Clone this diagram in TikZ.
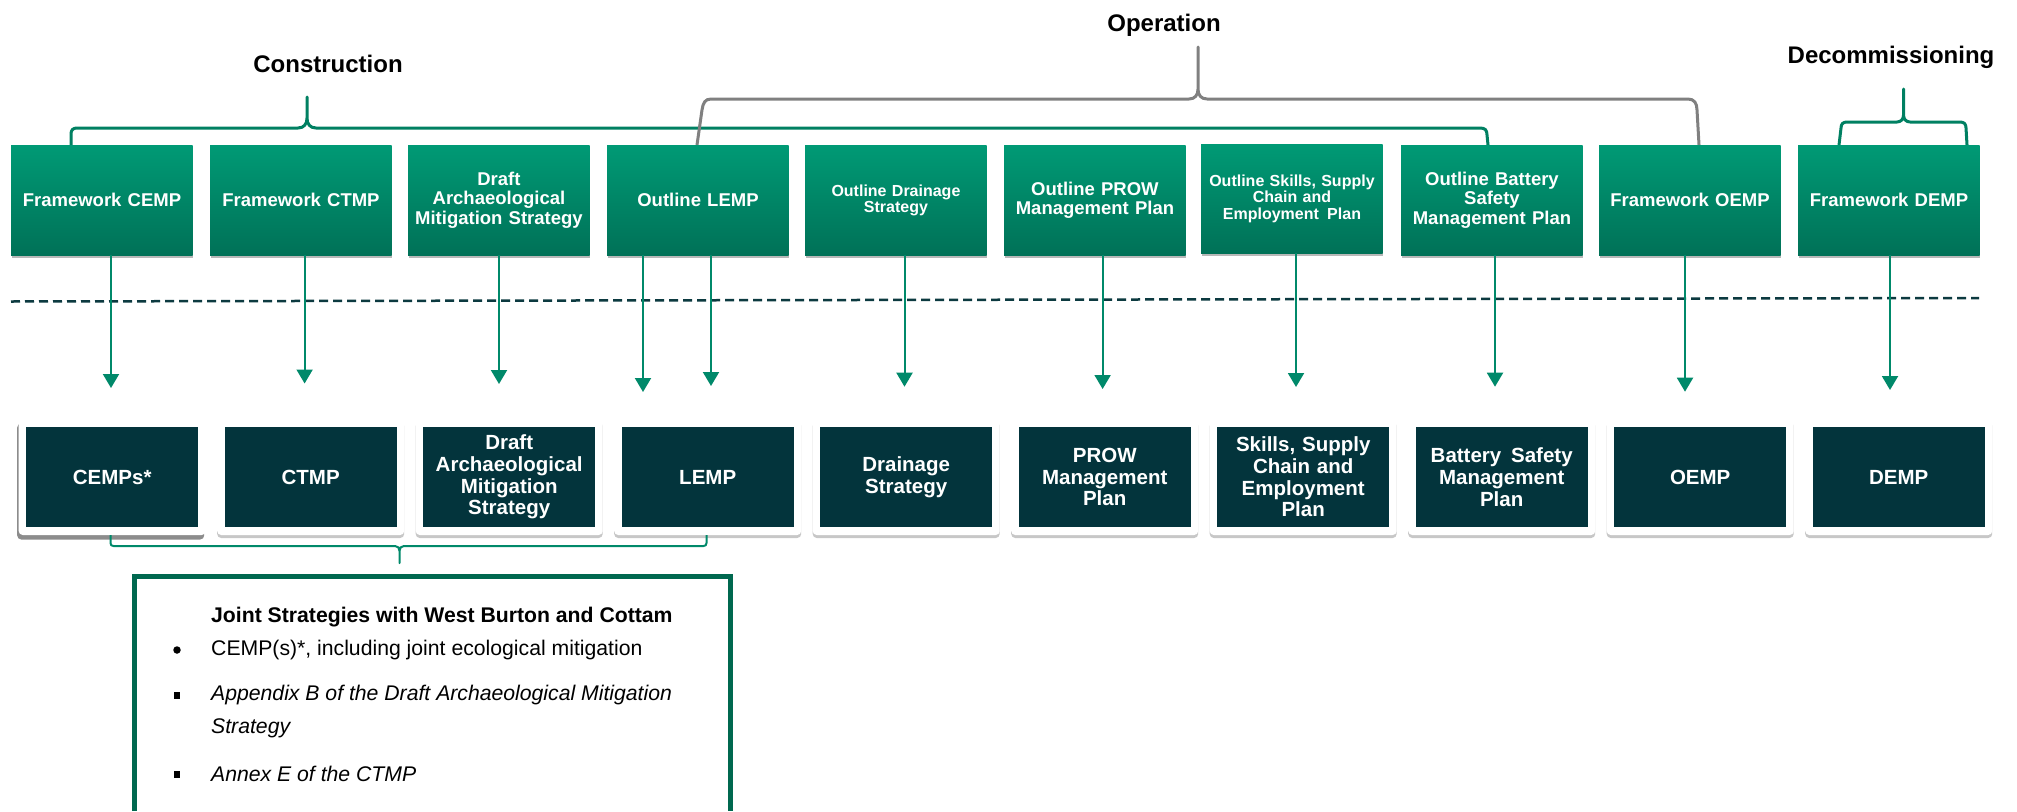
\documentclass[tikz,border=0pt]{standalone}
\usepackage{fontspec}
\setmainfont{Liberation Sans}
\usetikzlibrary{arrows.meta,shadows}
\definecolor{gtop}{RGB}{0,154,117}
\definecolor{gbot}{RGB}{0,113,87}
\definecolor{darkteal}{RGB}{3,52,60}
\definecolor{arrgreen}{RGB}{0,137,106}
\definecolor{bracegreen}{RGB}{0,128,98}
\definecolor{bracegray}{RGB}{128,128,128}
\definecolor{framegreen}{RGB}{0,104,79}
\definecolor{dashteal}{RGB}{12,58,64}
\newcommand{\myfs}[2]{\fontsize{#1}{#2}\selectfont}
\begin{document}
\begin{tikzpicture}[x=1pt,y=-1pt,
  tbox/.style={rectangle, anchor=north west, minimum width=181.5pt, minimum height=110pt,
    inner sep=0pt, top color=gtop, bottom color=gbot, text=white, align=center,
    text width=178pt, font=\bfseries\myfs{18.5}{19.5},
    drop shadow={shadow xshift=0.5pt, shadow yshift=-3pt, opacity=0.28, fill=black}},
  tsmall/.style={font=\bfseries\myfs{16}{16.5}},
  card/.style={rectangle, rounded corners=4pt, fill=white, minimum width=187pt,
    minimum height=116pt, inner sep=0pt,
    drop shadow={shadow xshift=0pt, shadow yshift=-3pt, opacity=0.22, fill=black}},
  cardsel/.style={rectangle, rounded corners=4pt, fill=white, minimum width=187pt,
    minimum height=116pt, inner sep=0pt,
    drop shadow={shadow xshift=-1.5pt, shadow yshift=-4.5pt, opacity=0.45, fill=black}},
  ibox/.style={rectangle, fill=darkteal, minimum width=172pt, minimum height=100pt,
    inner sep=0pt, text=white, align=center, text width=170pt,
    font=\bfseries\myfs{20.5}{21.7}},
  arr/.style={draw=arrgreen, line width=2pt, -{Triangle[width=16pt,length=14pt]}},
  phase/.style={font=\bfseries\myfs{24}{28}, text=black, anchor=base, inner sep=0pt},
  gbrace/.style={draw=bracegreen, line width=3pt, line join=round},
  obrace/.style={draw=bracegray, line width=3pt, line join=round},
  sbrace/.style={draw=arrgreen, line width=2pt, line join=round},
  jtext/.style={anchor=base west, inner sep=0pt, text=black, font=\myfs{21.2}{25}},
  dotbullet/.style={circle, fill=black, inner sep=0pt, minimum size=7.5pt},
  sqbullet/.style={rectangle, fill=black, inner sep=0pt, minimum width=6pt, minimum height=7pt},
  dashline/.style={draw=dashteal, line width=2.5pt, dash pattern=on 9pt off 5pt}
]
\useasboundingbox (0,0) rectangle (2017,811);
\fill[white] (0,0) rectangle (2017,811);

% phase labels
\node[phase] (lcon) at (328,72) {Construction};
\node[phase] (lop) at (1164,31.5) {Operation};
\node[phase] (ldec) at (1891,63) {Decommissioning};

% braces
\draw[gbrace] (71,145) -- (71,134) .. controls (71,130) and (73,128) .. (77,128)
  -- (298,128) .. controls (304,128) and (307,124) .. (307,118) -- (307,97)
  -- (307,118) .. controls (307,124) and (310,128) .. (316,128)
  -- (1480,128) .. controls (1485,128) and (1487,130) .. (1487,135) -- (1488,145);
\draw[obrace] (697,145) -- (702,110) .. controls (703,103) and (705,99) .. (711,99)
  -- (1189,99) .. controls (1195,99) and (1198,95) .. (1198,89) -- (1198,47)
  -- (1198,89) .. controls (1198,95) and (1201,99) .. (1207,99)
  -- (1688,99) .. controls (1694,99) and (1697,103) .. (1697,110) -- (1699,145);
\draw[gbrace] (1839,145) -- (1841,128) .. controls (1841,124) and (1843,122) .. (1847,122)
  -- (1897,122) .. controls (1901,122) and (1903.5,119) .. (1903.5,115) -- (1903.5,89)
  -- (1903.5,115) .. controls (1903.5,119) and (1906,122) .. (1910,122)
  -- (1960,122) .. controls (1964,122) and (1966,124) .. (1966,128) -- (1967,145);

% top boxes
\node[tbox] (t1) at (11,145) {Framework CEMP};
\node[tbox] (t2) at (210,145) {Framework CTMP};
\node[tbox] (t3) at (408,145) {Draft\\Archaeological\\Mitigation Strategy};
\node[tbox] (t4) at (607,145) {Outline LEMP};
\node[tbox,tsmall] (t5) at (805,145) {Outline Drainage\\Strategy};
\node[tbox] (t6) at (1004,145) {Outline PROW\\Management Plan};
\node[tbox,tsmall,minimum height=109pt] (t7) at (1201,144) {Outline Skills, Supply\\Chain and\\Employment\hspace{3pt} Plan};
\node[tbox] (t8) at (1401,145) {Outline Battery\\Safety\\Management Plan};
\node[tbox] (t9) at (1599,145) {Framework OEMP};
\node[tbox] (t10) at (1798,145) {Framework DEMP};

% dashed separator
\coordinate (dl) at (11,301.5);
\coordinate (dr) at (1979,298);
\draw[dashline] (dl) -- (dr);

% arrow tips
\coordinate (tip1) at (111,388);
\coordinate (tip2) at (304.6,383.5);
\coordinate (tip3) at (499,384);
\coordinate (tip4a) at (643,392);
\coordinate (tip4b) at (711,386);
\coordinate (tip5) at (904.5,386.7);
\coordinate (tip6) at (1102.6,389);
\coordinate (tip7) at (1296,387);
\coordinate (tip8) at (1495,386.7);
\coordinate (tip9) at (1685,391.7);
\coordinate (tip10) at (1890,390);

\draw[arr] (t1.south -| tip1) -- (tip1);
\draw[arr] (t2.south -| tip2) -- (tip2);
\draw[arr] (t3.south -| tip3) -- (tip3);
\draw[arr] (t4.south -| tip4a) -- (tip4a);
\draw[arr] (t4.south -| tip4b) -- (tip4b);
\draw[arr] (t5.south -| tip5) -- (tip5);
\draw[arr] (t6.south -| tip6) -- (tip6);
\draw[arr] (t7.south -| tip7) -- (tip7);
\draw[arr] (t8.south -| tip8) -- (tip8);
\draw[arr] (t9.south -| tip9) -- (tip9);
\draw[arr] (t10.south -| tip10) -- (tip10);

% bottom cards
\node[cardsel] (c1) at (112.2,477) {};
\node[card] (c2) at (310.7,477) {};
\node[card] (c3) at (509.2,477) {};
\node[card] (c4) at (707.7,477) {};
\node[card] (c5) at (906.2,477) {};
\node[card] (c6) at (1104.7,477) {};
\node[card] (c7) at (1303.2,477) {};
\node[card] (c8) at (1501.7,477) {};
\node[card] (c9) at (1700.2,477) {};
\node[card] (c10) at (1898.7,477) {};
\node[ibox] (b1) at (c1.center) {CEMPs*};
\node[ibox] (b2) at (c2.center) {CTMP};
\node[ibox] (b3) at (c3.center) {Draft\\Archaeological\\Mitigation\\Strategy};
\node[ibox] (b4) at (c4.center) {LEMP};
\node[ibox] (b5) at (c5.center) {Drainage\\Strategy};
\node[ibox] (b6) at (c6.center) {PROW\\Management\\Plan};
\node[ibox] (b7) at (c7.center) {Skills, Supply\\Chain and\\Employment\\Plan};
\node[ibox] (b8) at (c8.center) {Battery\hspace{3pt} Safety\\Management\\Plan};
\node[ibox] (b9) at (c9.center) {OEMP};
\node[ibox] (b10) at (c10.center) {DEMP};

% bottom brace
\draw[sbrace] (110.5,535) -- (110.5,543) .. controls (110.5,545) and (111.5,546) .. (113.5,546)
  -- (395,546) .. controls (398,546) and (399.5,548) .. (399.5,551) -- (399.5,563)
  -- (399.5,551) .. controls (399.5,548) and (401,546) .. (404,546)
  -- (703.5,546) .. controls (705.5,546) and (706.5,545) .. (706.5,543) -- (706.5,535);

% joint strategies frame (runs off the bottom edge)
\coordinate (jbl) at (134.5,811);
\coordinate (jtl) at (134.5,576.5);
\coordinate (jtr) at (730.5,576.5);
\coordinate (jbr) at (730.5,811);
\draw[draw=framegreen, line width=4.5pt] (jbl) -- (jtl) -- (jtr) -- (jbr);

\node[jtext, font=\bfseries\myfs{21.2}{25}] (jtitle) at (211,622.5) {Joint Strategies with West Burton and Cottam};
\node[dotbullet] (bul1) at (177,650) {};
\node[jtext] (j1) at (211,655) {CEMP(s)*, including joint ecological mitigation};
\node[sqbullet] (bul2) at (177,695) {};
\node[jtext] (j2a) at (211,700.5) {\itshape Appendix B of the Draft Archaeological Mitigation};
\node[jtext] (j2b) at (211,733.5) {\itshape Strategy};
\node[sqbullet] (bul3) at (177,774) {};
\node[jtext] (j3) at (211,781) {\itshape Annex E of the CTMP};
\end{tikzpicture}
\end{document}
